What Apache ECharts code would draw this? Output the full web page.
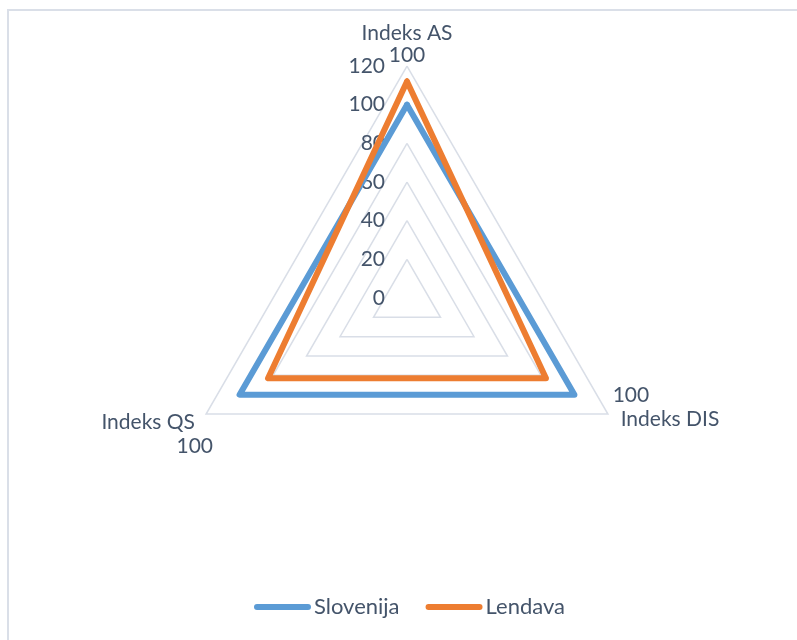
<!DOCTYPE html>
<html>
<head>
<meta charset="utf-8">
<script src="https://cdn.jsdelivr.net/npm/echarts@6/dist/echarts.min.js"></script>
<style>
  html, body { margin: 0; padding: 0; background: #fff; }
  #chart { width: 797px; height: 640px; }
</style>
</head>
<body>
<div id="chart"></div>
<script>
// indicators listed counterclockwise from the top
const indicators = ['Indeks AS', 'Indeks QS', 'Indeks DIS'];
const slovenija = [100, 100, 100];
const lendava = [112, 83, 83];
const seriesNames = ['Slovenija', 'Lendava'];
const axisMax = 120;

const textColor = '#44546A';
const font = 'Lato';
const fs = 21;

// per-indicator name placement (top, lower left, lower right)
const nameLayout = [
  { nameGap: 0, nameMoveOverlap: false, nameTextStyle: { align: 'center', verticalAlign: 'bottom' } },
  { nameGap: -8, nameMoveOverlap: false, nameTextStyle: { align: 'right', verticalAlign: 'top' } },
  { nameGap: 2, nameMoveOverlap: false, nameTextStyle: { padding: [0, 0, 14, 3] } }
];

const chart = echarts.init(document.getElementById('chart'));

chart.setOption({
  backgroundColor: '#fff',
  animation: false,
  textStyle: { fontFamily: font },
  graphic: [{
    type: 'rect',
    shape: { x: 8, y: 10, width: 900, height: 700 },
    style: { fill: 'none', stroke: '#DADFE8', lineWidth: 2 },
    silent: true
  }],
  legend: {
    data: seriesNames,
    bottom: 17,
    left: 249,
    itemWidth: 57,
    itemHeight: 6,
    itemGap: 26,
    icon: 'path://M3,0 H54 A3,3 0 0 1 54,6 H3 A3,3 0 0 1 3,0 Z',
    textStyle: { color: textColor, fontSize: 22, fontFamily: font, padding: [0, 0, 0, -2] }
  },
  radar: {
    center: [407, 298],
    radius: 232,
    startAngle: 90,
    shape: 'polygon',
    splitNumber: 6,
    indicator: indicators.map((name, i) => Object.assign({
      name: name,
      min: 0,
      max: axisMax,
      axisLabel: i === 0
        ? { show: true, color: textColor, fontSize: fs, fontFamily: font, margin: 22 }
        : { show: false }
    }, nameLayout[i])),
    axisName: {
      color: textColor,
      fontSize: fs,
      fontFamily: font,
      formatter: function (name) {
        const i = indicators.indexOf(name);
        const v = slovenija[i];
        if (i === 0) return '{n|' + name + '}\n{v|' + v + '}';
        if (i === 2) return '{v|' + v + '}\n{d|' + name + '}';
        return '{q|' + name + '}\n{v|' + v + '}';
      },
      rich: {
        n: { color: textColor, fontSize: fs, fontFamily: font, lineHeight: 22 },
        v: { color: textColor, fontSize: fs, fontFamily: font, lineHeight: 22 },
        d: { color: textColor, fontSize: fs, fontFamily: font, lineHeight: 25, padding: [0, 0, 0, 8] },
        q: { color: textColor, fontSize: fs, fontFamily: font, lineHeight: 25, padding: [0, 18, 0, 0] }
      }
    },
    nameGap: 2,
    splitLine: { lineStyle: { color: '#D9DEE7', width: 1.5 } },
    splitArea: { show: false },
    axisLine: { show: false },
    axisTick: { show: false },
    axisLabel: { show: false }
  },
  series: [{
    type: 'radar',
    symbol: 'none',
    data: [
      {
        name: seriesNames[0],
        value: slovenija,
        lineStyle: { color: '#5B9BD5', width: 6, cap: 'round', join: 'round' },
        itemStyle: { color: '#5B9BD5' }
      },
      {
        name: seriesNames[1],
        value: lendava,
        lineStyle: { color: '#ED7D31', width: 6, cap: 'round', join: 'round' },
        itemStyle: { color: '#ED7D31' }
      }
    ]
  }]
});
</script>
</body>
</html>
